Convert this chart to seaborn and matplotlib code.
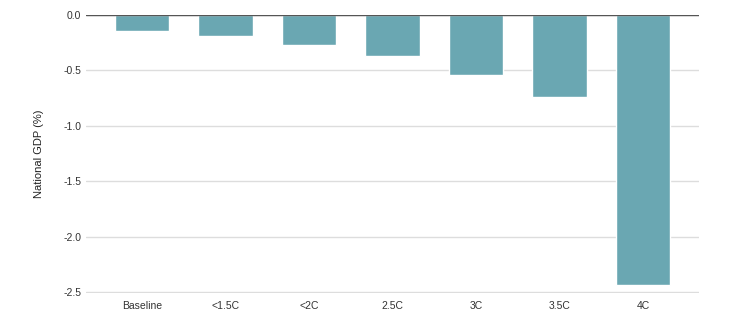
import matplotlib
matplotlib.use("Agg")
import matplotlib.pyplot as plt
import seaborn as sns
import pandas as pd

categories = ["Baseline", "<1.5C", "<2C", "2.5C", "3C", "3.5C", "4C"]
gdp_change = [-0.15, -0.19, -0.27, -0.37, -0.54, -0.74, -2.43]
yticks = [0.0, -0.5, -1.0, -1.5, -2.0, -2.5]

sns.set_style("white")
plt.rcParams['font.family'] = ['Liberation Sans', 'DejaVu Sans']

df = pd.DataFrame({"scenario": categories, "gdp": gdp_change})

fig = plt.figure(figsize=(7.3, 3.24), dpi=100)
ax = fig.add_axes([0.1178, 0.0957, 0.8397, 0.8593])
sns.barplot(data=df, x="scenario", y="gdp", color="#6aa7b2", saturation=1,
            width=0.65, ax=ax, zorder=3)
ax.set_xlim(-0.67, 6.67)
ax.set_ylim(-2.505, 0)
ax.set_yticks(yticks)
ax.set_yticklabels([f"{v:.1f}" for v in yticks])
ax.grid(axis="y", color="#dddddd", linewidth=1, zorder=0)
ax.axhline(0, color="#555555", linewidth=1, zorder=4)
for s in ax.spines.values():
    s.set_visible(False)
ax.tick_params(axis="both", length=0, labelsize=7.5, colors="#333333")
ax.tick_params(axis="x", pad=6)
ax.set_xlabel("")
ax.set_ylabel("National GDP (%)", fontsize=8, color="#222222", labelpad=14)
fig.savefig("out.png", dpi=100)
